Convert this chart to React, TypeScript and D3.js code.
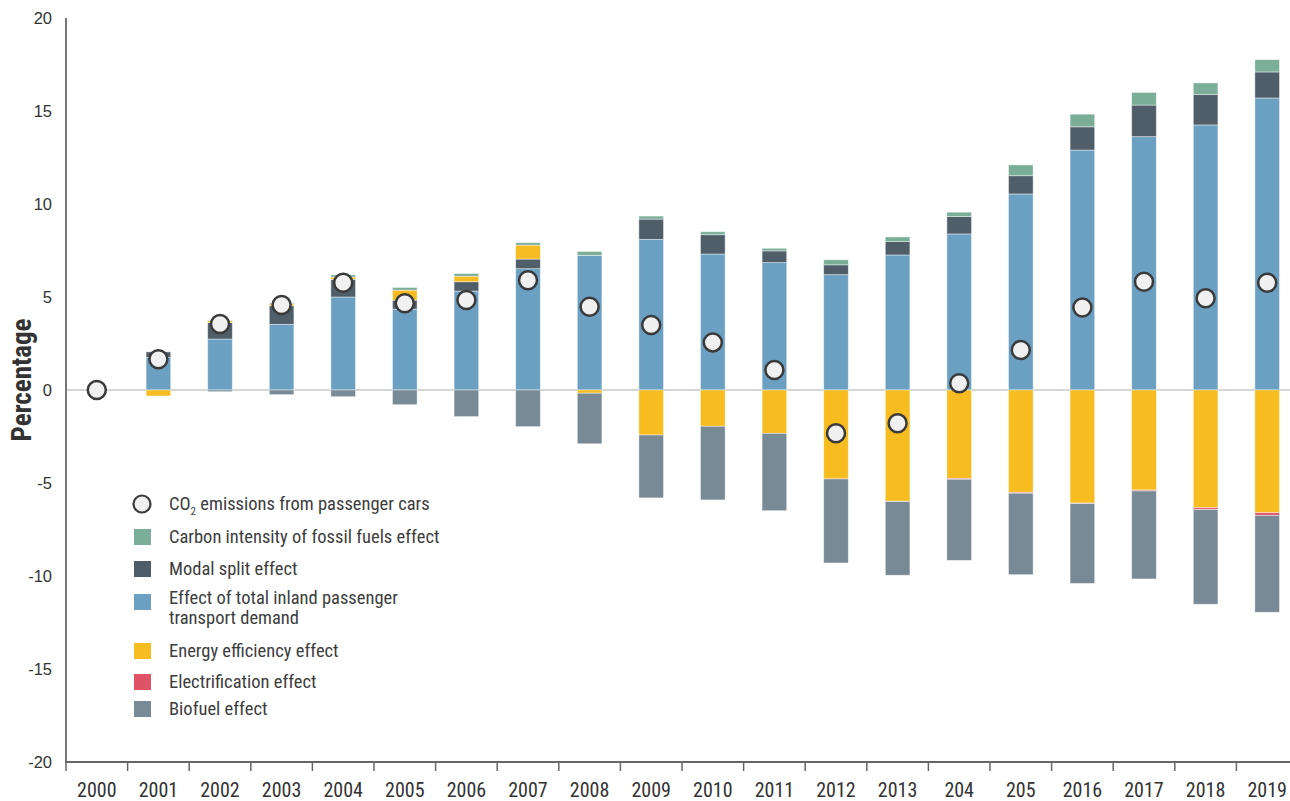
import React from 'react';
import * as d3 from 'd3';

const years = ['2000','2001','2002','2003','2004','2005','2006','2007','2008','2009','2010','2011','2012','2013','204','205','2016','2017','2018','2019'];
const demand = [0, 1.75, 2.74, 3.53, 5.0, 4.35, 5.32, 6.52, 7.24, 8.1, 7.31, 6.85, 6.2, 7.26, 8.39, 10.54, 12.9, 13.62, 14.25, 15.7];
const modal = [0, 0.3, 0.88, 1.0, 0.95, 0.48, 0.5, 0.52, 0, 1.09, 1.04, 0.63, 0.53, 0.72, 0.94, 0.98, 1.25, 1.7, 1.63, 1.4];
const efficiency = [0, -0.32, 0.1, 0.1, 0.12, 0.54, 0.3, 0.75, -0.17, -2.42, -1.95, -2.33, -4.78, -5.98, -4.75, -5.5, -6.08, -5.38, -6.33, -6.6];
const carbon = [0, 0, 0.03, 0.05, 0.12, 0.14, 0.14, 0.13, 0.21, 0.16, 0.16, 0.14, 0.27, 0.25, 0.23, 0.58, 0.68, 0.68, 0.63, 0.66];
const electrification = [0, 0, 0, 0, 0, 0, 0, 0, 0, 0, 0, 0, 0, -0.02, -0.05, -0.05, -0.03, -0.05, -0.1, -0.14];
const biofuel = [0, 0, -0.09, -0.25, -0.36, -0.79, -1.43, -1.97, -2.72, -3.38, -3.96, -4.16, -4.52, -3.96, -4.36, -4.38, -4.29, -4.73, -5.09, -5.21];
const co2 = [0, 1.65, 3.55, 4.57, 5.77, 4.66, 4.84, 5.9, 4.48, 3.49, 2.56, 1.08, -2.33, -1.79, 0.36, 2.15, 4.43, 5.82, 4.93, 5.77];
const yTicks = [-20, -15, -10, -5, 0, 5, 10, 15, 20];

const keys = ['demand', 'modal', 'efficiency', 'carbon', 'electrification', 'biofuel'];
const colors: Record<string, string> = {
  demand: '#6ca0c2',
  modal: '#4f5e69',
  efficiency: '#f7bc1f',
  carbon: '#7aae98',
  electrification: '#e05265',
  biofuel: '#788a96',
};

const condensed = '"Roboto Condensed", "Liberation Sans Narrow", "DejaVu Sans Condensed", "Arial Narrow", Roboto, sans-serif';
const plain = '"Liberation Sans", Arial, sans-serif';

export default function App() {
  const W = 1290, H = 801;
  const left = 66, top = 18, bottom = 762;
  const step = 61.6;
  const x = d3.scaleBand<string>().domain(years).range([left, left + step * years.length]).paddingInner(0.6).paddingOuter(0.3);
  const y = d3.scaleLinear().domain([-20, 20]).range([bottom, top]);

  const rows = years.map((yr, i) => ({
    year: yr,
    demand: demand[i],
    modal: modal[i],
    efficiency: efficiency[i],
    carbon: carbon[i],
    electrification: electrification[i],
    biofuel: biofuel[i],
  }));
  const series = d3.stack<any>().keys(keys).offset(d3.stackOffsetDiverging)(rows);

  const legend = [
    { key: 'carbon', label: ['Carbon intensity of fossil fuels effect'], y: 537 },
    { key: 'modal', label: ['Modal split effect'], y: 569 },
    { key: 'demand', label: ['Effect of total inland passenger', 'transport demand'], y: 602 },
    { key: 'efficiency', label: ['Energy efficiency effect'], y: 651 },
    { key: 'electrification', label: ['Electrification effect'], y: 682 },
    { key: 'biofuel', label: ['Biofuel effect'], y: 709 },
  ];

  const bw = x.bandwidth();
  const boundaries = years.map((d) => (x(d) as number) + bw / 2 - step / 2);
  boundaries.push(left + step * years.length);

  return (
    <svg width={W} height={H} style={{ position: 'absolute', left: 0, top: 0, background: '#fff' }}>
      <line x1={left} x2={W} y1={y(0)} y2={y(0)} stroke="#c8c8c8" strokeWidth={1.5} />
      {series.map((s) => (
        <g key={s.key} fill={colors[s.key]}>
          {s.map((d, i) => {
            const h = Math.abs(y(d[0]) - y(d[1]));
            if (h < 0.05) return null;
            return (
              <rect
                key={i}
                x={x(years[i])}
                width={bw}
                y={Math.min(y(d[0]), y(d[1]))}
                height={h}
                stroke="rgba(255,255,255,0.55)"
                strokeWidth={0.8}
              />
            );
          })}
        </g>
      ))}
      <line x1={left} x2={left} y1={top} y2={bottom} stroke="#777" strokeWidth={2} />
      <line x1={left - 1} x2={W} y1={bottom} y2={bottom} stroke="#666" strokeWidth={2} />
      {boundaries.map((b, i) => (
        <line key={i} x1={b} x2={b} y1={bottom} y2={bottom + 9} stroke="#666" strokeWidth={1.5} />
      ))}
      {years.map((yr) => (
        <text key={yr} x={(x(yr) as number) + bw / 2} y={797} textAnchor="middle" fontFamily={condensed} fontSize={20} fill="#333">
          {yr}
        </text>
      ))}
      {yTicks.map((t) => (
        <text key={t} x={52} y={y(t)} dy="0.35em" textAnchor="end" fontFamily={plain} fontSize={16.5} fill="#333">
          {t}
        </text>
      ))}
      <text transform={`translate(31, ${y(0) - 10}) rotate(-90)`} textAnchor="middle" fontFamily={condensed} fontWeight="bold" fontSize={27} fill="#333">
        Percentage
      </text>
      {years.map((yr, i) => (
        <circle key={yr} cx={(x(yr) as number) + bw / 2} cy={y(co2[i])} r={9} fill="#f0f0f0" stroke="#3a3a3a" strokeWidth={2.5} />
      ))}
      <circle cx={142} cy={504} r={8.5} fill="#f0f0f0" stroke="#3a3a3a" strokeWidth={2.2} />
      <text x={169} y={504} dy="0.35em" fontFamily={condensed} fontSize={18.5} fill="#3d3d3d">
        CO<tspan fontSize={11} dy={5}>2</tspan><tspan dy={-5}> emissions from passenger cars</tspan>
      </text>
      {legend.map((l) => (
        <g key={l.key}>
          <rect x={134} y={l.y - 8} width={17} height={16} fill={colors[l.key]} />
          {l.label.map((line, j) => (
            <text key={j} x={169} y={l.key === 'demand' ? 598 + j * 20 : l.y} dy="0.35em" fontFamily={condensed} fontSize={18.5} fill="#3d3d3d">
              {line}
            </text>
          ))}
        </g>
      ))}
    </svg>
  );
}
